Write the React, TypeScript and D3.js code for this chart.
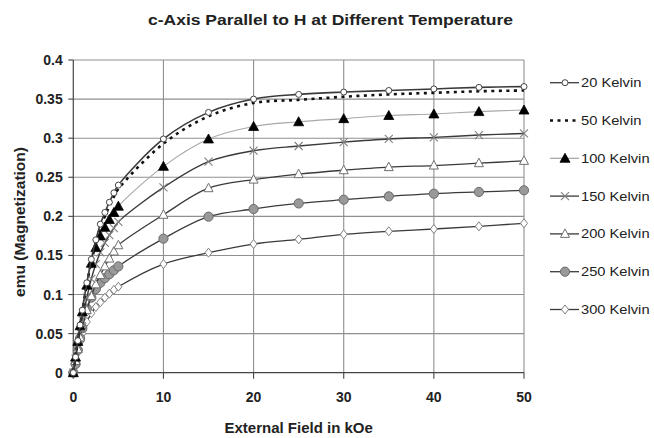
import React from "react";
import * as d3 from "d3";

// Applied field (kOe) at which each magnetization reading was taken
const fieldKOe = [0, 0.25, 0.5, 0.75, 1, 1.5, 2, 2.5, 3, 3.5, 4, 4.5, 5, 10, 15, 20, 25, 30, 35, 40, 45, 50];

// Magnetization (emu) per temperature
const k20 = [0, 0.02, 0.041, 0.061, 0.08, 0.115, 0.145, 0.17, 0.19, 0.205, 0.218, 0.23, 0.24, 0.299, 0.333, 0.35, 0.356, 0.359, 0.361, 0.363, 0.365, 0.366];
const k50 = [0, 0.02, 0.04, 0.06, 0.079, 0.113, 0.142, 0.166, 0.185, 0.2, 0.213, 0.225, 0.235, 0.293, 0.328, 0.345, 0.349, 0.353, 0.356, 0.358, 0.36, 0.361];
const k100 = [0, 0.02, 0.04, 0.06, 0.078, 0.112, 0.14, 0.16, 0.175, 0.186, 0.196, 0.205, 0.213, 0.264, 0.299, 0.315, 0.321, 0.325, 0.329, 0.331, 0.334, 0.336];
const k150 = [0, 0.018, 0.035, 0.052, 0.068, 0.096, 0.12, 0.139, 0.154, 0.166, 0.176, 0.185, 0.193, 0.237, 0.27, 0.284, 0.29, 0.295, 0.299, 0.301, 0.304, 0.306];
const k200 = [0, 0.015, 0.03, 0.045, 0.058, 0.08, 0.098, 0.113, 0.125, 0.136, 0.146, 0.155, 0.163, 0.202, 0.236, 0.247, 0.254, 0.259, 0.263, 0.265, 0.268, 0.271];
const k250 = [0, 0.011, 0.029, 0.044, 0.057, 0.082, 0.096, 0.107, 0.115, 0.121, 0.126, 0.131, 0.136, 0.1715, 0.1996, 0.2094, 0.2165, 0.2213, 0.2256, 0.229, 0.2312, 0.2333];
const k300 = [0, 0.013, 0.027, 0.039, 0.05, 0.065, 0.076, 0.084, 0.09, 0.096, 0.101, 0.106, 0.11, 0.139, 0.1535, 0.1646, 0.1706, 0.177, 0.1809, 0.1838, 0.1872, 0.1911];

const seriesNames = ["20 Kelvin", "50 Kelvin", "100 Kelvin", "150 Kelvin", "200 Kelvin", "250 Kelvin", "300 Kelvin"];
const xTicks = [0, 10, 20, 30, 40, 50];
const yTicks = [0, 0.05, 0.1, 0.15, 0.2, 0.25, 0.3, 0.35, 0.4];

const titleText = "c-Axis Parallel to H at Different Temperature";
const xTitle = "External Field in kOe";
const yTitle = "emu (Magnetization)";

type MarkerKind = "circleOpen" | "none" | "triFilled" | "cross" | "triOpen" | "circleGray" | "diamond";

interface Style {
  stroke: string;
  width: number;
  dash?: string;
  marker: MarkerKind;
}

const styles: Style[] = [
  { stroke: "#3a3a3a", width: 1.6, marker: "circleOpen" },
  { stroke: "#111", width: 2.6, dash: "3,4.5", marker: "none" },
  { stroke: "#a8a8a8", width: 1.1, marker: "triFilled" },
  { stroke: "#3a3a3a", width: 1.4, marker: "cross" },
  { stroke: "#3a3a3a", width: 1.3, marker: "triOpen" },
  { stroke: "#3a3a3a", width: 1.3, marker: "circleGray" },
  { stroke: "#3a3a3a", width: 1.3, marker: "diamond" },
];

const allSeries = [k20, k50, k100, k150, k200, k250, k300];

const W = 654;
const H = 438;
const plot = { left: 73.3, right: 524, top: 60, bottom: 372.7 };
const FONT = "'Liberation Sans', Arial, Helvetica, sans-serif";

function Marker({ kind, x, y }: { kind: MarkerKind; x: number; y: number }) {
  switch (kind) {
    case "circleOpen":
      return <circle cx={x} cy={y} r={3} fill="#fff" stroke="#444" strokeWidth={1} />;
    case "triFilled":
      return <path d={`M${x},${y - 5} L${x + 5},${y + 4} L${x - 5},${y + 4} Z`} fill="#000" stroke="#000" strokeWidth={0.8} />;
    case "cross":
      return (
        <path d={`M${x - 4},${y - 4} L${x + 4},${y + 4} M${x - 4},${y + 4} L${x + 4},${y - 4}`} stroke="#808080" strokeWidth={1.1} fill="none" />
      );
    case "triOpen":
      return <path d={`M${x},${y - 5} L${x + 4.5},${y + 3.5} L${x - 4.5},${y + 3.5} Z`} fill="#fff" stroke="#707070" strokeWidth={1} />;
    case "circleGray":
      return <circle cx={x} cy={y} r={4.6} fill="#999" stroke="#6a6a6a" strokeWidth={1} />;
    case "diamond":
      return <path d={`M${x},${y - 4.5} L${x + 3.5},${y} L${x},${y + 4.5} L${x - 3.5},${y} Z`} fill="#fff" stroke="#808080" strokeWidth={1} />;
    default:
      return null;
  }
}

export default function App() {
  const x = d3.scaleLinear().domain([0, 50]).range([plot.left, plot.right]);
  const y = d3.scaleLinear().domain([0, 0.4]).range([plot.bottom, plot.top]);

  const line = d3
    .line<[number, number]>()
    .x((d) => x(d[0]))
    .y((d) => y(d[1]))
    .curve(d3.curveCatmullRom.alpha(0.5));

  const legendTop = 82.7;
  const legendStep = 37.8;

  return (
    <svg
      width={W}
      height={H}
      viewBox={`0 0 ${W} ${H}`}
      style={{ position: "absolute", left: 0, top: 0, background: "#fff" }}
      fontFamily={FONT}
    >
      <rect x={0} y={0} width={W} height={H} fill="#fff" />

      {/* title */}
      <text x={330.5} y={25} textAnchor="middle" fontSize={14.5} fontWeight="bold" fill="#222" textLength={365} lengthAdjust="spacingAndGlyphs">
        {titleText}
      </text>

      {/* gridlines */}
      {yTicks.filter((t) => t > 0).map((t) => (
        <line key={`gy${t}`} x1={plot.left} x2={plot.right} y1={y(t)} y2={y(t)} stroke="#8f8f8f" strokeWidth={1.1} />
      ))}
      {xTicks.filter((t) => t > 0).map((t) => (
        <line key={`gx${t}`} x1={x(t)} x2={x(t)} y1={plot.top} y2={plot.bottom} stroke="#8f8f8f" strokeWidth={1.1} />
      ))}

      {/* axes */}
      <line x1={plot.left} x2={plot.left} y1={plot.top} y2={plot.bottom} stroke="#444" strokeWidth={1.2} />
      <line x1={plot.left} x2={plot.right} y1={plot.bottom} y2={plot.bottom} stroke="#444" strokeWidth={1.2} />
      {yTicks.map((t) => (
        <g key={`yt${t}`}>
          <line x1={plot.left - 5} x2={plot.left} y1={y(t)} y2={y(t)} stroke="#444" strokeWidth={1.1} />
          <text x={62.7} y={y(t) + 5} textAnchor="end" fontSize={14} fontWeight="bold" fill="#222">
            {d3.format("")(t)}
          </text>
        </g>
      ))}
      {xTicks.map((t) => (
        <g key={`xt${t}`}>
          <line x1={x(t)} x2={x(t)} y1={plot.bottom} y2={plot.bottom + 6} stroke="#444" strokeWidth={1.1} />
          <text x={x(t)} y={402} textAnchor="middle" fontSize={14} fontWeight="bold" fill="#222">
            {t}
          </text>
        </g>
      ))}

      {/* axis titles */}
      <text x={(plot.left + plot.right) / 2} y={433} textAnchor="middle" fontSize={15} fontWeight="bold" fill="#222">
        {xTitle}
      </text>
      <text
        transform={`translate(25,222) rotate(-90)`}
        textAnchor="middle"
        fontSize={14}
        fontWeight="bold"
        fill="#222"
        textLength={150}
        lengthAdjust="spacingAndGlyphs"
      >
        {yTitle}
      </text>

      {/* series, drawn from warmest to coldest so the cold curves sit on top */}
      {allSeries
        .map((vals, i) => ({ vals, i }))
        .reverse()
        .map(({ vals, i }) => {
          const pts = fieldKOe.map((f, j) => [f, vals[j]] as [number, number]);
          const s = styles[i];
          return (
            <g key={`s${i}`}>
              <path d={line(pts) || ""} fill="none" stroke={s.stroke} strokeWidth={s.width} strokeDasharray={s.dash} />
              {pts.map((p, j) => (
                <Marker key={j} kind={s.marker} x={x(p[0])} y={y(p[1])} />
              ))}
            </g>
          );
        })}

      {/* legend */}
      {seriesNames.map((name, i) => {
        const cy = legendTop + i * legendStep;
        const s = styles[i];
        return (
          <g key={`lg${i}`}>
            <line
              x1={550}
              x2={579}
              y1={cy}
              y2={cy}
              stroke={s.marker === "triFilled" ? "#a8a8a8" : s.stroke}
              strokeWidth={s.marker === "none" ? 2.6 : 1.3}
              strokeDasharray={s.dash}
            />
            <Marker kind={s.marker} x={565} y={cy} />
            <text
              transform={`translate(581,${cy + 4.5}) scale(1.13,1)`}
              fontSize={13}
              fill="#222"
            >
              {name}
            </text>
          </g>
        );
      })}
    </svg>
  );
}
